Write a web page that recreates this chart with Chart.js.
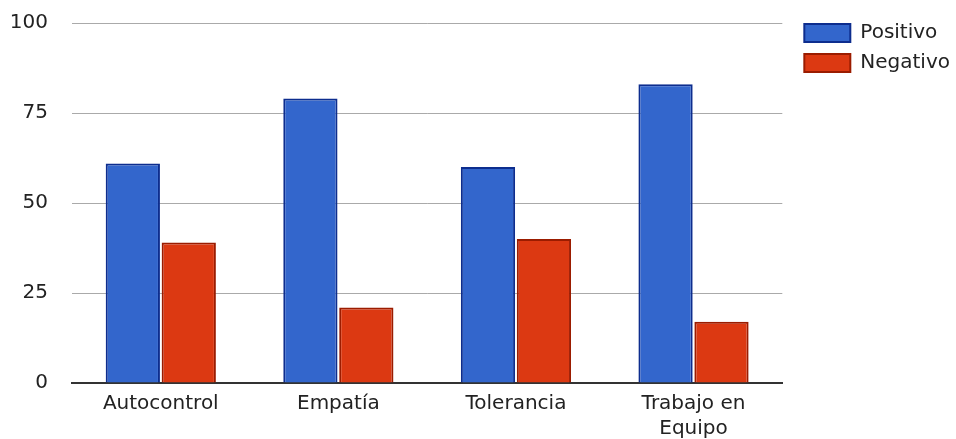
<!DOCTYPE html>
<html>
<head>
<meta charset="utf-8">
<script src="https://cdn.jsdelivr.net/npm/chart.js@4.4.1/dist/chart.umd.min.js"></script>
<style>
  body { margin: 0; background: #fff; }
  #wrap { width: 956px; height: 439px; }
</style>
</head>
<body>
<div id="wrap"><canvas id="myChart"></canvas></div>
<script>
var categorias = ["Autocontrol", "Empatía", "Tolerancia", ["Trabajo en", "Equipo"]];
var positivo = [61, 79, 60, 83];
var negativo = [39, 21, 40, 17];
var yTicks = [0, 25, 50, 75, 100];

Chart.defaults.font.family = "'DejaVu Sans', sans-serif";
Chart.defaults.font.size = 20;
Chart.defaults.color = "#222";

// nudge the legend so it sits a bit away from the plot, like the original
var moveLegend = {
  id: "moveLegend",
  afterLayout: function (chart) {
    var lg = chart.legend;
    lg.left += 12; lg.right += 12;
    lg.top -= 10; lg.bottom -= 10;
  }
};

var ctx = document.getElementById("myChart");
var myChart = new Chart(ctx, {
  type: "bar",
  data: {
    labels: categorias,
    datasets: [
      {
        label: "Positivo",
        data: positivo,
        backgroundColor: "#3366cc",
        borderColor: "#0d2d8e",
        borderWidth: 2
      },
      {
        label: "Negativo",
        data: negativo,
        backgroundColor: "#dc3912",
        borderColor: "#9b1c00",
        borderWidth: 2
      }
    ]
  },
  options: {
    responsive: true,
    maintainAspectRatio: false,
    animation: false,
    layout: { padding: { top: 23, left: 10, right: 8, bottom: 0 } },
    datasets: { bar: { categoryPercentage: 0.63, barPercentage: 0.97 } },
    scales: {
      x: {
        afterFit: function (axis) { axis.height = 56; },
        grid: { display: false, drawTicks: false },
        border: { display: true, color: "#333", width: 2 },
        ticks: { padding: 8, maxRotation: 0, font: { lineHeight: 1.25 } }
      },
      y: {
        min: 0,
        max: 100,
        afterFit: function (axis) {
          axis.width = 62;
          axis.paddingTop = 0;
          axis.paddingBottom = 0;
        },
        afterBuildTicks: function (axis) {
          axis.ticks = yTicks.map(function (v) { return { value: v }; });
        },
        grid: { color: "#aaaaaa", lineWidth: 1, drawTicks: false },
        border: { display: false },
        ticks: { padding: 24 }
      }
    },
    plugins: {
      legend: {
        position: "right",
        align: "start",
        labels: { boxWidth: 46, boxHeight: 18, padding: 10 }
      },
      tooltip: { enabled: false }
    }
  },
  plugins: [moveLegend]
});
</script>
</body>
</html>
